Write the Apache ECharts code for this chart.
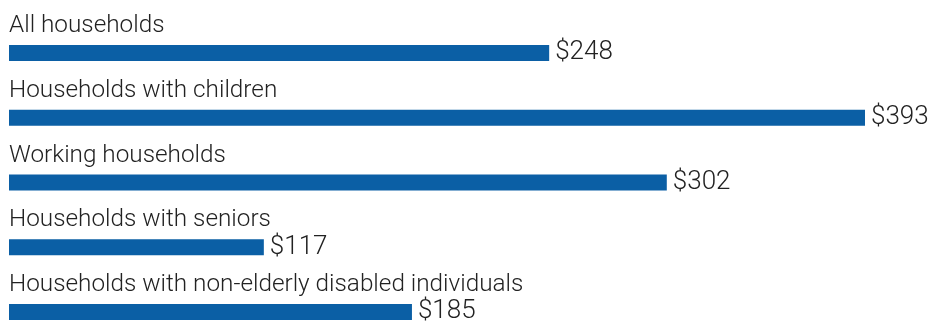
<!DOCTYPE html>
<html>
<head>
<meta charset="utf-8">
<script src="https://cdn.jsdelivr.net/npm/echarts@6/dist/echarts.min.js"></script>
<style>
html,body{margin:0;padding:0;background:#fff;}
#chart{width:933px;height:324px;}
</style>
</head>
<body>
<div id="chart"></div>
<script>
const categories = [
  "All households",
  "Households with children",
  "Working households",
  "Households with seniors",
  "Households with non-elderly disabled individuals"
];
const values = [248, 393, 302, 117, 185];

const chart = echarts.init(document.getElementById('chart'));
chart.setOption({
  animation: false,
  backgroundColor: '#ffffff',
  grid: { left: 9, right: 68, top: 20.6, height: 323.75, containLabel: false, outerBoundsMode: 'none' },
  xAxis: {
    type: 'value', min: 0, max: 393, show: false
  },
  yAxis: {
    type: 'category',
    data: categories,
    inverse: true,
    axisLine: { show: false },
    axisTick: { show: false },
    splitLine: { show: false },
    axisLabel: {
      inside: true,
      margin: 0,
      align: 'left',
      verticalAlign: 'bottom',
      fontFamily: 'Roboto, "Liberation Sans", sans-serif',
      fontWeight: 300,
      fontSize: 24.3,
      lineHeight: 26,
      color: '#222222',
      padding: [0, 0, 14, 0]
    },
    z: 10
  },
  series: [{
    type: 'bar',
    data: values,
    barWidth: 16,
    itemStyle: { color: '#0b5fa5' },
    label: {
      show: true,
      position: 'right',
      distance: 6,
      formatter: p => '$' + p.value,
      fontFamily: 'Roboto, "Liberation Sans", sans-serif',
      fontWeight: 300,
      fontSize: 26,
      color: '#222222'
    }
  }]
});
</script>
</body>
</html>
